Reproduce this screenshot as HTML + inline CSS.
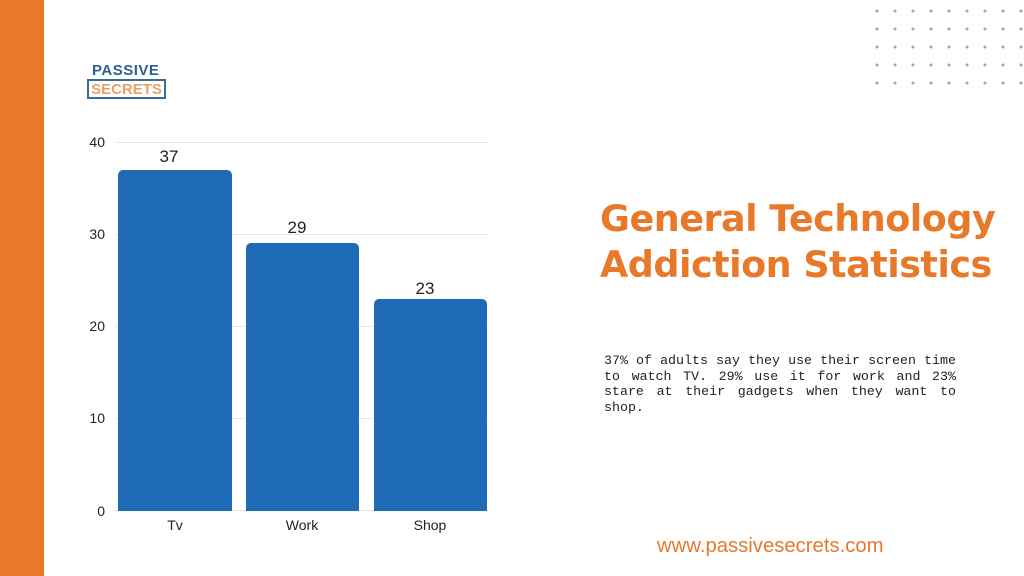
<!DOCTYPE html>
<html><head><style>
body{margin:0;width:1024px;height:576px;background:#fff;position:relative;overflow:hidden;font-family:"Liberation Sans",sans-serif}
.a{position:absolute}
</style></head><body>
<div class="a" style="left:0;top:0;width:44px;height:576px;background:#e8792b"></div>
<div class="a" style="left:92px;top:62px;font:bold 15px 'Liberation Sans',sans-serif;color:#2d5f93;letter-spacing:0.5px">PASSIVE</div>
<div class="a" style="left:87px;top:79px;width:79px;height:20px;border:2px solid #3a6d96;box-sizing:border-box;font:bold 15px 'Liberation Sans',sans-serif;color:#e9a266;text-align:center;line-height:17px">SECRETS</div>
<svg class="a" style="left:0;top:0" width="1024" height="576">
<g stroke="#e6e6e6" stroke-width="1">
<line x1="115" x2="488" y1="142.5" y2="142.5"/><line x1="115" x2="488" y1="234.5" y2="234.5"/><line x1="115" x2="488" y1="326.5" y2="326.5"/><line x1="115" x2="488" y1="418.5" y2="418.5"/><line x1="115" x2="488" y1="510.5" y2="510.5"/>
</g>
<g font-family="Liberation Sans" font-size="14" fill="#222" text-anchor="end">
<text x="105" y="147">40</text><text x="105" y="239">30</text><text x="105" y="331">20</text><text x="105" y="423">10</text><text x="105" y="516">0</text>
</g>
<g fill="#1f6bb8">
<path d="M118 511V175a5 5 0 0 1 5-5h104a5 5 0 0 1 5 5V511z"/>
<path d="M246 511V248a5 5 0 0 1 5-5h103a5 5 0 0 1 5 5V511z"/>
<path d="M374 511V304a5 5 0 0 1 5-5h103a5 5 0 0 1 5 5V511z"/>
</g>
<g font-family="Liberation Sans" font-size="17" fill="#222" text-anchor="middle">
<text x="169" y="162">37</text><text x="297" y="233">29</text><text x="425" y="294">23</text>
</g>
<g font-family="Liberation Sans" font-size="14" fill="#222" text-anchor="middle">
<text x="175" y="530">Tv</text><text x="302" y="530">Work</text><text x="430" y="530">Shop</text>
</g>
<g fill="#a8a890">
<circle cx="877" cy="11" r="1.5"/><circle cx="895" cy="11" r="1.5"/><circle cx="913" cy="11" r="1.5"/><circle cx="931" cy="11" r="1.5"/><circle cx="949" cy="11" r="1.5"/><circle cx="967" cy="11" r="1.5"/><circle cx="985" cy="11" r="1.5"/><circle cx="1003" cy="11" r="1.5"/><circle cx="1021" cy="11" r="1.5"/>
<circle cx="877" cy="29" r="1.5"/><circle cx="895" cy="29" r="1.5"/><circle cx="913" cy="29" r="1.5"/><circle cx="931" cy="29" r="1.5"/><circle cx="949" cy="29" r="1.5"/><circle cx="967" cy="29" r="1.5"/><circle cx="985" cy="29" r="1.5"/><circle cx="1003" cy="29" r="1.5"/><circle cx="1021" cy="29" r="1.5"/>
<circle cx="877" cy="47" r="1.5"/><circle cx="895" cy="47" r="1.5"/><circle cx="913" cy="47" r="1.5"/><circle cx="931" cy="47" r="1.5"/><circle cx="949" cy="47" r="1.5"/><circle cx="967" cy="47" r="1.5"/><circle cx="985" cy="47" r="1.5"/><circle cx="1003" cy="47" r="1.5"/><circle cx="1021" cy="47" r="1.5"/>
<circle cx="877" cy="65" r="1.5"/><circle cx="895" cy="65" r="1.5"/><circle cx="913" cy="65" r="1.5"/><circle cx="931" cy="65" r="1.5"/><circle cx="949" cy="65" r="1.5"/><circle cx="967" cy="65" r="1.5"/><circle cx="985" cy="65" r="1.5"/><circle cx="1003" cy="65" r="1.5"/><circle cx="1021" cy="65" r="1.5"/>
<circle cx="877" cy="83" r="1.5"/><circle cx="895" cy="83" r="1.5"/><circle cx="913" cy="83" r="1.5"/><circle cx="931" cy="83" r="1.5"/><circle cx="949" cy="83" r="1.5"/><circle cx="967" cy="83" r="1.5"/><circle cx="985" cy="83" r="1.5"/><circle cx="1003" cy="83" r="1.5"/><circle cx="1021" cy="83" r="1.5"/>
</g></svg>
<div class="a" style="left:600px;top:196px;font:bold 36.5px 'DejaVu Sans',sans-serif;color:#e8792b;line-height:46px;letter-spacing:-0.5px">General Technology<br>Addiction Statistics</div>
<div class="a" style="left:604px;top:353px;width:352px;font:13.3px 'Liberation Mono',monospace;color:#222;line-height:15.5px;text-align:justify">37% of adults say they use their screen time to watch TV. 29% use it for work and 23% stare at their gadgets when they want to shop.</div>
<div class="a" style="left:657px;top:535px;font:20.3px 'Liberation Sans',sans-serif;color:#e8792b">www.passivesecrets.com</div>
</body></html>
